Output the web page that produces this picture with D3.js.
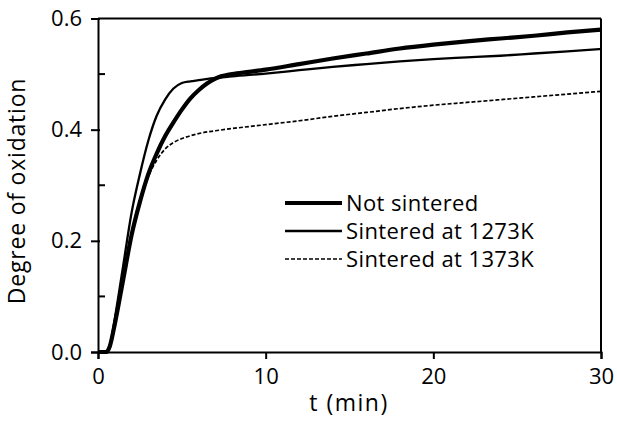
<!DOCTYPE html>
<html><head><meta charset="utf-8">
<script src="https://cdn.jsdelivr.net/npm/d3@7"></script>
<style>body{margin:0;background:#fff}svg text{font-family:"Open Sans","Noto Sans",sans-serif;fill:#000}</style>
</head><body><svg id="c" width="617" height="421"></svg>
<script>
const seriesNames = ["Not sintered", "Sintered at 1273K", "Sintered at 1373K"];
const tNot = [0,0.5,0.7,1.0,1.5,2.0,2.5,3.0,3.5,4.0,4.5,5.0,5.5,6.0,6.5,7.0,8,9,10,12,14,16,18,20,22,24,26,28,30];
const vNot = [0,0,0.01,0.05,0.13,0.21,0.27,0.32,0.357,0.388,0.413,0.436,0.456,0.471,0.483,0.492,0.500,0.504,0.508,0.518,0.528,0.537,0.546,0.553,0.559,0.564,0.569,0.575,0.58];
const t1273 = [0,0.5,0.7,1.0,1.5,2.0,2.5,3.0,3.5,4.0,4.5,5.0,5.5,6.0,7,8,10,12,14,16,18,20,22,24,26,28,30];
const v1273 = [0,0,0.01,0.06,0.155,0.25,0.32,0.38,0.425,0.454,0.474,0.484,0.487,0.489,0.493,0.496,0.501,0.507,0.513,0.518,0.523,0.527,0.530,0.533,0.537,0.541,0.545];
const t1373 = [0,0.5,0.7,1.0,1.5,2.0,2.5,3.0,3.5,4.0,4.5,5.0,5.5,6,7,8,10,12,14,16,18,20,22,24,26,28,30];
const v1373 = [0,0,0.01,0.05,0.13,0.21,0.27,0.315,0.345,0.365,0.377,0.384,0.389,0.393,0.398,0.402,0.409,0.416,0.424,0.431,0.438,0.444,0.449,0.454,0.459,0.464,0.469];
const xTicks = [0,10,20,30];
const yTicks = [0.0,0.2,0.4,0.6];
const yMinor = [0.1,0.3,0.5];

const svg = d3.select("#c");
const x = d3.scaleLinear().domain([0,30]).range([98,601]);
const y = d3.scaleLinear().domain([0,0.6]).range([352,18.5]);

const series = [
  {name: seriesNames[0], t: tNot, v: vNot, w: 4.2, dash: null},
  {name: seriesNames[1], t: t1273, v: v1273, w: 2.3, dash: null},
  {name: seriesNames[2], t: t1373, v: v1373, w: 1.7, dash: "4,2"}
];
const line = d3.line().x(d=>x(d[0])).y(d=>y(d[1])).curve(d3.curveMonotoneX);
const g = svg.append("g");
series.slice().reverse().forEach(s => {
  g.append("path").attr("d", line(s.t.map((t,i)=>[t,s.v[i]])))
    .attr("fill","none").attr("stroke","#000").attr("stroke-width",s.w)
    .attr("stroke-dasharray",s.dash).attr("stroke-linejoin","round");
});

// frame
svg.append("line").attr("x1",x(0)).attr("x2",x(30)).attr("y1",y(0.6)).attr("y2",y(0.6)).attr("stroke","#000").attr("stroke-width",2);
svg.append("line").attr("x1",x(30)).attr("x2",x(30)).attr("y1",y(0.6)).attr("y2",y(0)).attr("stroke","#000").attr("stroke-width",2);

const xAxis = svg.append("g").attr("transform",`translate(0,${y(0)})`)
  .call(d3.axisBottom(x).tickValues(xTicks).tickFormat(d3.format("d")).tickSizeOuter(0).tickSize(7).tickPadding(9));
const yAxis = svg.append("g").attr("transform",`translate(${x(0)},0)`)
  .call(d3.axisLeft(y).tickValues(yTicks).tickFormat(d3.format(".1f")).tickSizeOuter(0).tickSize(7).tickPadding(9));
[xAxis,yAxis].forEach(a=>{
  a.select(".domain").attr("stroke-width",2);
  a.selectAll(".tick line").attr("stroke-width",2);
  a.selectAll("text").style("font-size","22px");
});
yAxis.selectAll(".tick line").attr("x2",-7).attr("x1",2);
yAxis.selectAll(".minor").data(yMinor).enter().append("line")
  .attr("x1",0).attr("x2",7).attr("y1",d=>y(d)).attr("y2",d=>y(d)).attr("stroke","#000").attr("stroke-width",2);

svg.append("text").attr("x",349).attr("y",411).attr("text-anchor","middle").style("font-size","23px").style("letter-spacing","1.5px").text("t (min)");
svg.append("text").attr("transform","translate(25,191) rotate(-90)").attr("text-anchor","middle").style("font-size","23px").style("letter-spacing","0.8px").text("Degree of oxidation");

const leg = svg.append("g");
series.forEach((s,i)=>{
  const yy = 203 + i*28;
  leg.append("line").attr("x1",285).attr("x2",342).attr("y1",yy).attr("y2",yy)
    .attr("stroke","#000").attr("stroke-width",s.w).attr("stroke-dasharray",s.dash);
  leg.append("text").attr("x",346).attr("y",yy).attr("dy","0.35em").style("font-size","22px").style("letter-spacing","0.4px").text(s.name);
});
</script></body></html>
